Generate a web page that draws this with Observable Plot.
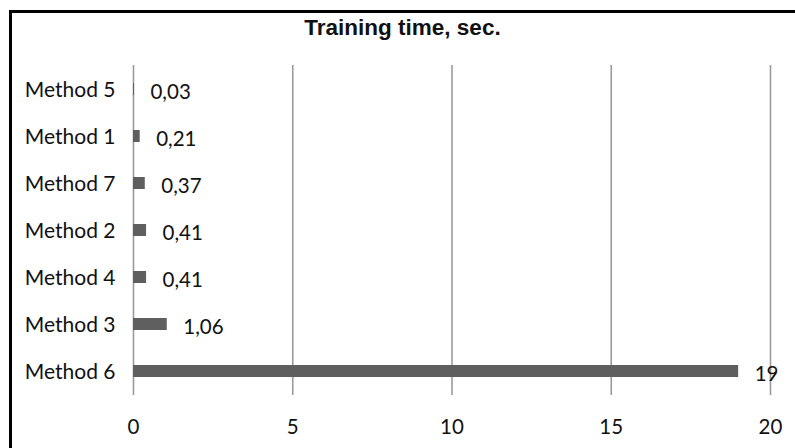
<!DOCTYPE html>
<html>
<head>
<meta charset="utf-8">
<script src="https://cdn.jsdelivr.net/npm/d3@7"></script>
<script src="https://cdn.jsdelivr.net/npm/@observablehq/plot@0.6"></script>
<style>
  html, body { margin: 0; padding: 0; background: #fff; }
  #wrap { position: relative; width: 795px; height: 448px; overflow: hidden; background: #fff; }
  #frame { position: absolute; left: 9px; top: 10px; right: -5px; bottom: -5px;
           border-top: 3px solid #000; border-left: 3px solid #000; }
  #title { position: absolute; left: 0; top: 14px; width: 805px; text-align: center;
           font: bold 22.5px "Liberation Sans", Arial, sans-serif; color: #111; line-height: 28px; }
  #chart { position: absolute; left: 0; top: 50px; }
</style>
</head>
<body>
<div id="wrap">
  <div id="frame"></div>
  <div id="title">Training time, sec.</div>
  <div id="chart"></div>
</div>
<script>
const methods = ["Method 5", "Method 1", "Method 7", "Method 2", "Method 4", "Method 3", "Method 6"];
const times = [0.03, 0.21, 0.37, 0.41, 0.41, 1.06, 19];
const xTicks = [0, 5, 10, 15, 20];

const data = methods.map((m, i) => ({method: m, time: times[i]}));
const fmt = v => Number.isInteger(v) ? String(v) : v.toFixed(2).replace(".", ",");

const font = "Lato, 'Open Sans', sans-serif";

const chart = Plot.plot({
  width: 795,
  height: 398,
  marginTop: 15,
  marginBottom: 53,
  marginLeft: 133,
  marginRight: 25,
  style: {fontFamily: font, fontSize: "20px", color: "#111", background: "transparent"},
  x: {domain: [0, 20], ticks: xTicks},
  y: {domain: methods, paddingInner: 0.75, paddingOuter: 0.375},
  marks: [
    Plot.ruleX(xTicks, {stroke: "#9a9a9a", strokeWidth: 1.6}),
    Plot.ruleY([0], {frameAnchor: "bottom", stroke: "#9a9a9a", strokeWidth: 1.6}),
    Plot.barX(data, {x: "time", y: "method", fill: "#5f5f5f"}),
    Plot.text(data, {x: "time", y: "method", text: d => fmt(d.time), textAnchor: "start",
                     dx: 16, dy: 3, fontSize: 20.5, fill: "#111"}),
    Plot.axisX({ticks: xTicks, tickSize: 0, tickPadding: 24, label: null, fontSize: 20.5, fill: "#111"}),
    Plot.axisY({tickSize: 0, tickPadding: 18, label: null, fontSize: 21, fill: "#111", dy: 1})
  ]
});
document.getElementById("chart").appendChild(chart);
</script>
</body>
</html>
